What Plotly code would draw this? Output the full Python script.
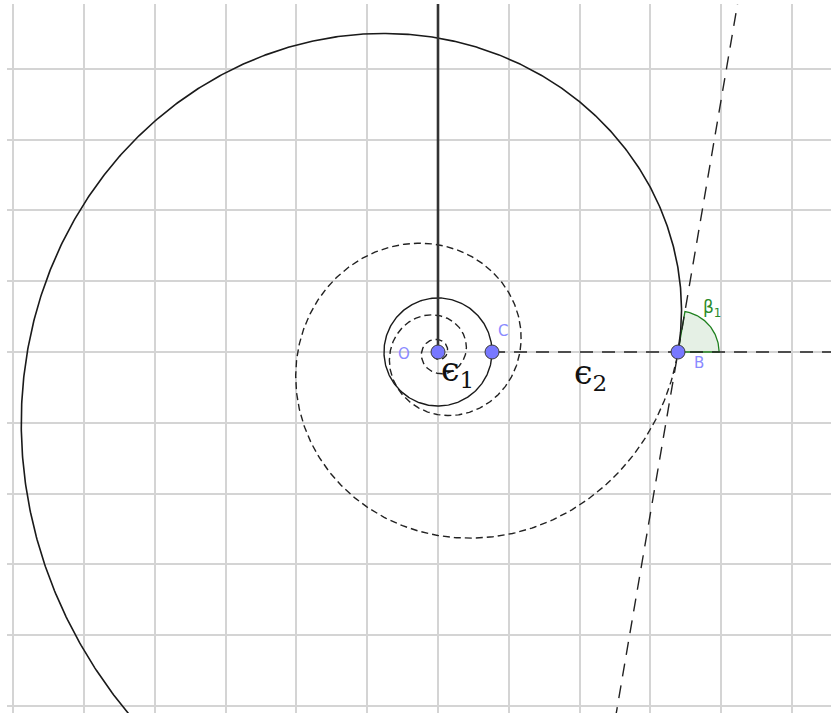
import numpy as np
import plotly.graph_objects as go

# ---- data (in grid units, 1 unit = one grid square) ----
SPIRAL_A = 3.39      # radius of the spiral at angle 0 (= |OB|)
SPIRAL_B = 0.171     # growth rate of the logarithmic spiral r = a*exp(b*theta)
CIRCLE_R = 0.763     # radius of circle through C
point_names = ["O", "C", "B"]
point_x = [0.0, 0.763, 3.39]
point_y = [0.0, 0.0, 0.0]
ANGLE_R = 0.58       # radius of angle marker beta_1

# ---- figure geometry ----
S = 70.8  # px per unit
W, H = 831, 716
ML, MR, MT, MB = 7, 0, 4, 3
OX, OY = 438, 352  # pixel position of origin
xr = [-(OX - ML) / S, (W - MR - OX) / S]
yr = [-(H - MB - OY) / S, (OY - MT) / S]

fig = go.Figure()

# angle sector beta_1 at B
psi = np.arctan2(1.0, SPIRAL_B)
ang = np.linspace(0, psi, 60)
sx = [point_x[2]] + list(point_x[2] + ANGLE_R * np.cos(ang)) + [point_x[2]]
sy = [point_y[2]] + list(point_y[2] + ANGLE_R * np.sin(ang)) + [point_y[2]]
fig.add_trace(go.Scatter(x=sx, y=sy, mode="lines", fill="toself",
                         fillcolor="rgba(0,110,0,0.10)",
                         line=dict(color="#1f801f", width=1.3), hoverinfo="skip"))

# dashed inner spiral (theta < 0)
t_in = np.linspace(-12 * np.pi, 0, 3000)
r_in = SPIRAL_A * np.exp(SPIRAL_B * t_in)
fig.add_trace(go.Scatter(x=r_in * np.cos(t_in), y=r_in * np.sin(t_in), mode="lines",
                         line=dict(color="#222222", width=1.4, dash="7px,4px"),
                         hoverinfo="skip"))

# solid outer spiral (theta > 0)
t_out = np.linspace(0, 5.0, 800)
r_out = SPIRAL_A * np.exp(SPIRAL_B * t_out)
fig.add_trace(go.Scatter(x=r_out * np.cos(t_out), y=r_out * np.sin(t_out), mode="lines",
                         line=dict(color="#1a1a1a", width=1.6), hoverinfo="skip"))

# circle through C
tc = np.linspace(0, 2 * np.pi, 300)
fig.add_trace(go.Scatter(x=CIRCLE_R * np.cos(tc), y=CIRCLE_R * np.sin(tc), mode="lines",
                         line=dict(color="#1a1a1a", width=1.4), hoverinfo="skip"))

# vertical ray from O upwards
fig.add_trace(go.Scatter(x=[point_x[0], point_x[0]], y=[point_y[0], 8], mode="lines",
                         line=dict(color="#333333", width=2.6), hoverinfo="skip"))

# horizontal dashed ray from C to the right
fig.add_trace(go.Scatter(x=[point_x[1], 8], y=[0, 0], mode="lines",
                         line=dict(color="#222222", width=1.4, dash="13px,9px"),
                         hoverinfo="skip"))

# tangent line at B
dx, dy = np.cos(psi), np.sin(psi)
fig.add_trace(go.Scatter(x=[point_x[2] - 9 * dx, point_x[2] + 9 * dx],
                         y=[point_y[2] - 9 * dy, point_y[2] + 9 * dy], mode="lines",
                         line=dict(color="#222222", width=1.4, dash="13px,9px"),
                         hoverinfo="skip"))

# points
fig.add_trace(go.Scatter(x=point_x, y=point_y, mode="markers",
                         marker=dict(size=14, color="#7878ff",
                                     line=dict(color="#3a3a3a", width=1)),
                         hoverinfo="skip"))

# text labels as annotations
lab_font = dict(family="DejaVu Sans", size=15, color="#8a8aff")
eps_font = dict(family="DejaVu Serif", size=33, color="#111111")
annos = [
    dict(x=-0.48, y=-0.03, text=point_names[0], font=lab_font),
    dict(x=0.92, y=0.29, text=point_names[1], font=lab_font),
    dict(x=3.69, y=-0.16, text=point_names[2], font=lab_font),
    dict(x=3.87, y=0.62, text="β<sub>1</sub>",
         font=dict(family="DejaVu Sans", size=17, color="#2a8a2a")),
    dict(x=0.28, y=-0.27, text="ϵ<sub>1</sub>", font=eps_font),
    dict(x=2.16, y=-0.32, text="ϵ<sub>2</sub>", font=eps_font),
]
for a in annos:
    a.update(showarrow=False, xref="x", yref="y", xanchor="center", yanchor="middle")

fig.update_layout(
    width=W, height=H,
    font=dict(family="DejaVu Sans", size=15, color="#111111"),
    margin=dict(l=ML, r=MR, t=MT, b=MB, pad=0),
    paper_bgcolor="white", plot_bgcolor="white",
    showlegend=False,
    annotations=annos,
    xaxis=dict(range=xr, dtick=1, tick0=0, showgrid=True, gridcolor="#d4d4d4",
               gridwidth=1.5, zeroline=False, showticklabels=False, ticks="",
               showline=False, fixedrange=True),
    yaxis=dict(range=yr, dtick=1, tick0=0, showgrid=True, gridcolor="#d4d4d4",
               gridwidth=1.5, zeroline=False, showticklabels=False, ticks="",
               showline=False, fixedrange=True),
)

fig.write_html("out.html", config={"displayModeBar": False},
               post_script="document.body.style.margin='0';document.body.style.overflow='hidden';")
